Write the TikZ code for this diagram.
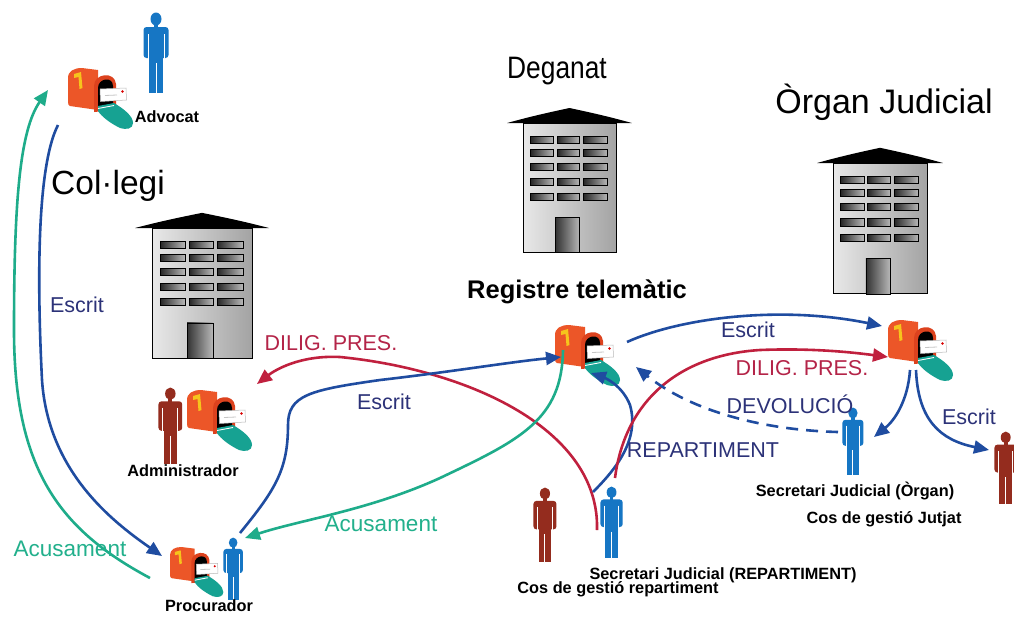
\documentclass[tikz,border=0pt]{standalone}
\usepackage{graphicx}
\usepackage{fontspec}
\setmainfont{Liberation Sans}
\usetikzlibrary{arrows.meta}

\definecolor{lineblue}{RGB}{31,76,160}
\definecolor{linered}{RGB}{192,32,62}
\definecolor{lineteal}{RGB}{30,172,138}
\definecolor{txtnavy}{RGB}{44,50,120}
\definecolor{txtred}{RGB}{180,36,72}
\definecolor{txtteal}{RGB}{34,176,140}
\definecolor{manblue}{RGB}{22,118,196}
\definecolor{manred}{RGB}{148,44,30}
\definecolor{boxorange}{RGB}{236,86,40}
\definecolor{boxrim}{RGB}{220,66,30}
\definecolor{flagyellow}{RGB}{246,196,28}
\definecolor{lidteal}{RGB}{22,162,146}

\tikzset{
  flow/.style={line width=2.6pt, -{Triangle[length=15pt,width=13pt]}},
  title/.style={font=\fontsize{#1}{#1}\selectfont, inner sep=0pt},
  place/.style={font=\bfseries\fontsize{25.5}{29}\selectfont, inner sep=0pt},
  who/.style={font=\bfseries\fontsize{16.3}{19}\selectfont, inner sep=0pt},
  lab/.style={font=\fontsize{21.5}{25}\selectfont, inner sep=0pt},
  % mailbox icon, origin at the top left of the body
  mailbox/.pic={
    \fill[boxorange] (0,10) .. controls (0,3) and (6,0) .. (14,0) -- (30,2) -- (30,42) -- (2,38) .. controls (0.5,37.5) and (0,36) .. (0,34) -- cycle;
    \fill[boxrim] (26,44) -- (26,18) .. controls (26,5) and (47,3) .. (48,16) -- (48,42) -- cycle;
    \fill[black] (30,42) -- (30,20) .. controls (30,10) and (45,8) .. (45,18) -- (45,40) -- cycle;
    \fill[flagyellow] (6,6) -- (13,4) -- (14.5,20) -- (11.5,21) -- (10.5,9) -- (6,10) -- cycle;
    \filldraw[fill=white, draw=gray!55, line width=0.5pt] (32,21) -- (58,20) -- (58.5,32) -- (32.5,33.5) -- cycle;
    \draw[gray!45, line width=0.8pt] (37,27.5) -- (49,27);
    \fill[red!85!black] (54.5,23.5) circle (1.4);
    \fill[lidteal] (30,38) -- (46,35) .. controls (56,41) and (65,48) .. (65,55) .. controls (65,61) and (58,62) .. (52,60) .. controls (42,55) and (34,49) .. (30,43) -- cycle;
    \draw[white, line width=0.9pt] (30,40.5) -- (46,37.5);
  },
  % standing figure, origin at the top left, 80 units high
  person/.pic={
    \fill[pic actions] (13,6) ellipse (5.5 and 6.5);
    \fill[pic actions] (11,11) rectangle (15,15);
    \fill[pic actions, rounded corners=3] (0.5,14) rectangle (25.5,45);
    \fill[pic actions] (6,40) rectangle (20,80);
    \draw[white, line width=1pt] (5,21) -- (5,46) (21,21) -- (21,46) (13,50) -- (13,81);
  },
  % office block, origin at the top left of the facade
  building/.pic={
    \fill[black] (-17,1) .. controls (10,-6) and (30,-10) .. (50,-14) .. controls (70,-10) and (90,-6) .. (117,1) -- cycle;
    \shade[left color=gray!18, right color=gray!72, draw=black, line width=1pt] (0,1) rectangle (100,130);
    \foreach \cx/\cw in {8/25, 37/24, 65/26}{
      \foreach \ry in {14, 27, 41, 56, 71}{
        \shade[left color=black!85, right color=gray!55, draw=black, line width=0.8pt]
          (\cx,\ry) rectangle ++(\cw,7);
      }
    }
    \shade[left color=black!80, right color=gray!55, draw=black, line width=0.8pt] (35,95) rectangle (61,130);
  }
}

\begin{document}
\begin{tikzpicture}[x=1pt,y=-1pt]
\useasboundingbox (0,0) rectangle (1014,619);
\fill[white] (0,0) rectangle (1014,619);

% buildings
\pic (bCol) at (152,227) [yscale=1.01] {building};
\pic (bDeg) at (523,122) [xscale=0.93] {building};
\pic (bOrg) at (833,162) [xscale=0.94, yscale=1.015] {building};

% mailboxes
\pic (mbAdv)  at (68,68)   {mailbox};
\pic (mbAdm)  at (187,390) {mailbox};
\pic (mbProc) at (170,547) [scale=0.82] {mailbox};
\pic (mbReg)  at (555,325) {mailbox};
\pic (mbOrg)  at (888,320) {mailbox};

% people
\pic (pAdv)   at (143,13)  [fill=manblue] {person};
\pic (pAdm)   at (158,388) [fill=manred, scale=0.95] {person};
\pic (pProc)  at (223,538) [fill=manblue, scale=0.78] {person};
\pic (pSecR)  at (600,487) [fill=manblue, scale=0.89] {person};
\pic (pCosR)  at (533,488) [fill=manred, scale=0.92] {person};
\pic (pSecO)  at (842,408) [fill=manblue, scale=0.84] {person};
\pic (pCosJ)  at (994,432) [fill=manred, scale=0.9] {person};

% connector end points
\coordinate (advOut)   at (58,125);
\coordinate (advIn)    at (48,90);
\coordinate (procIn)   at (162,556);
\coordinate (procOutL) at (150,578);
\coordinate (procUp)   at (240,533);
\coordinate (procInR)  at (245,538);
\coordinate (adminIn)  at (257,384);
\coordinate (regInL)   at (561,357);
\coordinate (regDown)  at (563,350);
\coordinate (regInB)   at (591,373);
\coordinate (regInR)   at (636,367);
\coordinate (regOut)   at (627,342);
\coordinate (secRepA)  at (597,530);
\coordinate (secRepB)  at (593,492);
\coordinate (secRepC)  at (615,478);
\coordinate (orgInT)   at (882,326);
\coordinate (orgInB)   at (888,357);
\coordinate (orgOutA)  at (910,370);
\coordinate (orgOutB)  at (916,370);
\coordinate (secOrgL)  at (838,432);
\coordinate (secOrgIn) at (874,437);
\coordinate (jutjatIn) at (989,450);

% flows
\draw[flow, lineblue] (advOut) .. controls (35,170) and (38,300) .. (42,380) .. controls (48,470) and (110,520) .. (procIn);
\draw[flow, lineteal] (procOutL) .. controls (60,530) and (14,470) .. (14,330) .. controls (14,200) and (20,130) .. (advIn);
\draw[flow, linered] (secRepA) .. controls (600,430) and (470,370) .. (340,357) .. controls (300,355) and (275,370) .. (adminIn);
\draw[flow, lineblue] (procUp) .. controls (275,490) and (288,470) .. (288,425) .. controls (288,395) and (310,390) .. (380,380) .. controls (450,372) and (510,362) .. (regInL);
\draw[flow, lineteal] (regDown) .. controls (562,420) and (520,440) .. (440,478) .. controls (370,510) and (300,520) .. (procInR);
\draw[flow, lineblue] (secRepB) .. controls (615,470) and (640,440) .. (630,405) .. controls (622,385) and (605,378) .. (regInB);
\draw[flow, linered] (secRepC) .. controls (625,400) and (680,355) .. (760,350) .. controls (810,348) and (850,352) .. (orgInB);
\draw[flow, lineblue] (regOut) .. controls (680,318) and (780,305) .. (orgInT);
\draw[flow, lineblue, dash pattern=on 12pt off 8pt] (secOrgL) .. controls (760,430) and (690,410) .. (regInR);
\draw[flow, lineblue] (orgOutA) .. controls (908,400) and (895,420) .. (secOrgIn);
\draw[flow, lineblue] (orgOutB) .. controls (918,420) and (940,440) .. (jutjatIn);

% titles
\node[title=31] (tDeg) at (557,71)  {\scalebox{0.85}[1]{Deganat}};
\node[title=34] (tOrg) at (884,102) {Òrgan Judicial};
\node[title=33.5] (tCol) at (108,186) {Col·legi};
\node[place] (tReg) at (577,292) {Registre telemàtic};

% people labels
\node[who] (lAdv)  at (167,117) {Advocat};
\node[who] (lAdm)  at (183,471) {Administrador};
\node[who] (lProc) at (209,606) {Procurador};
\node[who] (lSecR) at (723,575) {Secretari Judicial (REPARTIMENT)};
\node[who] (lCosR) at (618,589) {Cos de gestió repartiment};
\node[who] (lSecO) at (855,491) {Secretari Judicial (Òrgan)};
\node[who] (lCosJ) at (884,519) {Cos de gestió Jutjat};

% flow labels
\node[lab, text=txtnavy] (eL)  at (77,305)  {Escrit};
\node[lab, text=txtnavy] (eM)  at (384,402) {Escrit};
\node[lab, text=txtnavy] (eT)  at (748,330) {Escrit};
\node[lab, text=txtnavy] (eR)  at (969,417) {Escrit};
\node[lab, text=txtred]  (dL)  at (331,343) {DILIG. PRES.};
\node[lab, text=txtred]  (dR)  at (802,368) {DILIG. PRES.};
\node[lab, text=txtnavy] (dev) at (790,404) {DEVOLUCIÓ};
\node[lab, text=txtnavy] (rep) at (703,450) {REPARTIMENT};
\node[lab, text=txtteal, font=\fontsize{22.5}{26}\selectfont] (aM)  at (381,524) {Acusament};
\node[lab, text=txtteal, font=\fontsize{22.5}{26}\selectfont] (aL)  at (70,549)  {Acusament};
\end{tikzpicture}
\end{document}
